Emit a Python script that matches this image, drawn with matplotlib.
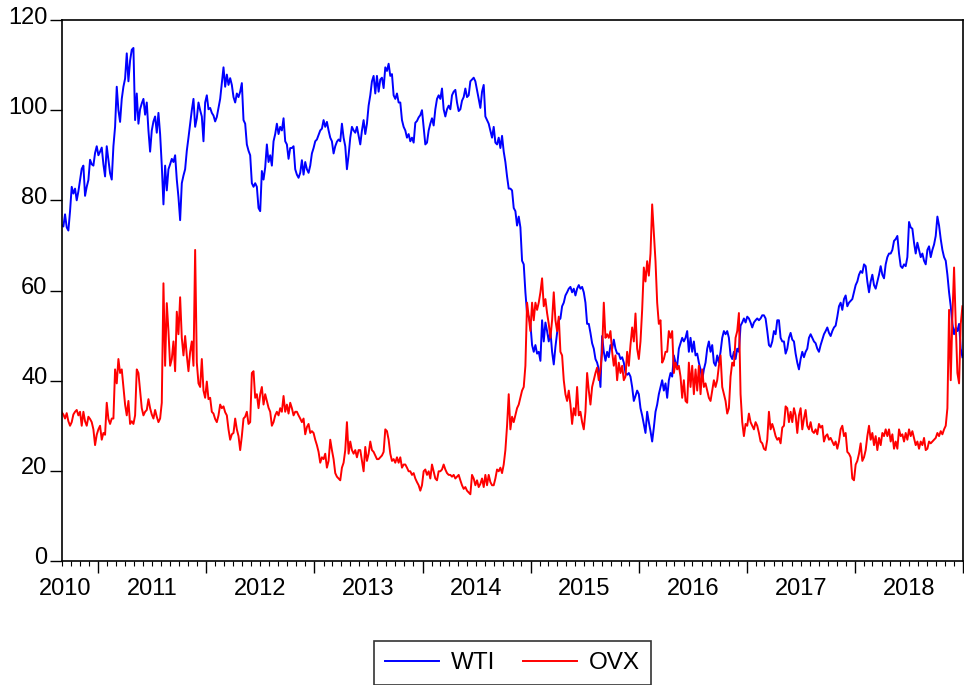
import numpy as np
import pandas as pd
import matplotlib
matplotlib.use("Agg")
import matplotlib.pyplot as plt
import matplotlib.dates as mdates
import matplotlib.ticker as mticker
import matplotlib.transforms as mtransforms

plt.rcParams['font.family'] = ['Liberation Sans', 'DejaVu Sans']

# ---- data (roughly every 5-6 days) ----
wti = [
    # Sep 2010 - Jun 2011
    74.5, 74.2, 76.9, 74.0, 73.3, 77.6, 83.0, 81.5, 82.6, 80.0,
    82.0, 84.5, 87.0, 87.7, 81.0, 83.0, 84.5, 89.0, 88.0, 87.7,
    90.5, 92.0, 90.0, 90.8, 91.7, 88.0, 85.3, 92.0, 89.0, 86.0,
    84.6, 92.0, 96.3, 105.2, 100.0, 97.4, 102.5, 105.2, 107.0, 112.6,
    106.4, 111.0, 113.4, 113.8, 97.8, 103.7, 97.0, 100.2, 101.5, 102.5,
    99.0, 101.7, 95.5, 90.8, 95.5, 97.5, 98.6, 95.0, 99.4, 94.7,
    87.7, 79.1, 87.7, 82.2, 86.9, 88.0, 89.2, 88.5, 90.0, 84.6,
    80.7, 75.6, 83.8, 85.5, 86.9, 91.0, 93.9, 97.0, 100.0, 102.5,
    96.3, 98.2, 101.7, 100.0, 98.6, 93.1, 101.7, 103.3, 100.2,
    # 2012
    100.5, 99.4, 98.8, 97.5, 98.5, 100.5, 102.5, 106.0, 109.5, 105.2,
    107.9, 105.6, 107.1, 105.6, 102.9, 101.7, 103.7, 102.9, 104.1, 106.0,
    97.8, 97.0, 92.4, 91.0, 90.0, 83.8, 83.0, 83.8, 83.0, 78.3,
    77.6, 86.5, 84.6, 87.3, 92.4, 88.5, 90.0, 87.7, 93.1, 94.7,
    97.0, 94.7, 96.3, 95.5, 98.2, 93.1, 92.4, 89.2, 91.6, 91.6,
    92.0, 86.9, 85.7, 85.0, 86.1, 88.9, 85.7, 88.5, 86.9, 86.1,
    87.7, 90.4, 91.6, 93.1, 93.5, 94.5, 95.5, 95.9, 97.8, 96.3,
    97.4, 95.5, 93.9, 93.1, 90.4, 92.0, 93.0, 93.5, 93.1, 97.0,
    93.9, 92.0, 86.9, 90.0, 93.9, 96.3, 95.5, 95.0, 96.3, 94.3,
    # 2013 - 2014
    92.4, 95.5, 97.8, 94.7, 97.0, 101.0, 103.3, 106.4, 107.6, 103.7,
    107.6, 104.1, 106.8, 107.2, 104.9, 109.5, 108.7, 110.3, 107.6, 108.0,
    103.3, 102.5, 103.7, 101.7, 101.7, 97.8, 96.3, 95.5, 93.9, 94.7,
    93.1, 93.9, 92.8, 97.2, 97.6, 98.4, 98.9, 100.0, 96.3, 92.4,
    92.8, 95.5, 97.0, 98.2, 96.6, 100.2, 102.5, 103.3, 102.5, 104.8,
    100.2, 98.6, 100.2, 101.0, 100.2, 103.3, 104.1, 104.5, 101.7, 99.8,
    100.2, 102.1, 102.9, 104.8, 102.9, 103.3, 106.4, 106.8, 107.2, 106.4,
    104.5, 102.5, 100.5, 104.1, 105.6, 98.6, 97.8, 97.0, 95.5, 93.9,
    96.3, 92.8, 92.4, 93.9, 91.6, 94.3, 90.8, 88.5, 85.3, 82.6,
    # late 2014 - 2016
    82.6, 82.2, 78.3, 77.6, 74.4, 76.4, 74.0, 66.6, 65.8, 59.6,
    54.9, 54.2, 52.6, 47.9, 46.4, 47.9, 46.0, 46.4, 44.4, 53.4,
    48.7, 52.9, 51.0, 48.7, 51.0, 46.4, 43.6, 47.5, 50.6, 53.4,
    53.8, 56.5, 57.3, 58.9, 59.6, 60.4, 60.8, 59.6, 60.4, 58.9,
    60.4, 61.2, 60.4, 60.8, 59.6, 57.3, 52.6, 52.6, 50.6, 48.3,
    47.1, 44.8, 44.0, 42.5, 38.6, 49.9, 46.4, 44.4, 46.4, 45.2,
    47.9, 47.1, 49.1, 47.1, 46.0, 46.0, 44.8, 45.2, 44.0, 41.7,
    41.3, 41.7, 40.9, 38.6, 35.5, 36.6, 37.8, 37.0, 33.9, 32.3,
    30.4, 28.4, 33.1, 30.8, 28.8, 26.5, 29.6, 33.1, 34.7, 37.0,
    # 2016 - 2017
    38.6, 40.1, 37.8, 39.4, 36.2, 40.1, 41.7, 40.9, 45.6, 44.0,
    43.3, 47.1, 48.3, 49.5, 48.7, 49.5, 51.0, 46.4, 49.5, 46.4,
    48.7, 45.6, 46.0, 44.0, 42.5, 40.1, 42.5, 44.0, 47.1, 48.7,
    46.4, 47.9, 44.0, 43.3, 45.6, 44.0, 46.4, 49.5, 51.0, 50.3,
    51.0, 49.5, 45.6, 44.8, 46.4, 44.8, 47.1, 46.4, 52.2, 52.9,
    53.8, 52.9, 54.2, 53.8, 52.9, 51.8, 52.9, 53.4, 53.8, 53.4,
    53.8, 54.5, 54.5, 53.8, 51.0, 47.9, 47.5, 48.7, 51.0, 50.3,
    53.4, 53.4, 49.5, 48.7, 48.7, 46.0, 47.1, 49.5, 50.6, 49.1,
    48.7, 46.0, 44.0, 42.5, 44.8, 46.4, 45.2, 46.4, 47.1, 49.5,
    # mid 2017 - 2018
    50.3, 49.5, 48.7, 48.3, 47.1, 46.4, 47.9, 49.1, 50.3, 51.0,
    51.8, 50.6, 49.9, 51.0, 51.8, 52.2, 54.2, 56.5, 57.3, 55.7,
    58.1, 58.9, 56.5, 57.3, 57.7, 58.1, 59.6, 61.2, 62.0, 63.5,
    64.3, 63.9, 65.8, 65.4, 62.0, 59.6, 62.0, 63.5, 61.2, 60.4,
    62.0, 63.5, 65.4, 63.5, 62.7, 65.8, 67.4, 68.2, 68.2, 69.0,
    71.0, 71.4, 72.1, 68.2, 65.4, 65.0, 65.8, 65.4, 67.4, 75.2,
    74.0, 73.7, 70.6, 68.2, 70.6, 69.0, 67.4, 68.2, 66.6, 65.8,
    69.0, 69.8, 67.4, 69.0, 70.2, 72.1, 76.4, 74.4, 71.4, 69.0,
    67.4, 66.6, 63.5, 59.6, 56.5, 52.6, 50.3, 51.8, 51.0, 52.6,
    47.1, 45.2,
]

ovx = [
    33.0, 32.5, 31.6, 32.8, 31.0, 30.0, 30.8, 32.5, 33.1, 33.5,
    32.3, 33.1, 30.0, 33.1, 31.0, 30.0, 32.0, 31.5, 30.8, 29.2,
    25.7, 28.0, 29.2, 30.0, 26.9, 28.4, 28.0, 35.1, 31.5, 30.4,
    31.6, 31.6, 42.5, 39.4, 44.8, 41.7, 42.5, 38.6, 34.7, 32.3,
    35.5, 30.4, 31.0, 30.4, 32.3, 42.5, 41.7, 37.8, 33.9, 32.3,
    33.1, 33.5, 35.9, 33.9, 32.5, 31.6, 33.5, 32.0, 30.8, 31.6,
    35.1, 61.6, 43.3, 57.2, 51.0, 43.3, 44.8, 48.7, 42.1, 55.3,
    50.3, 58.5, 49.5, 45.6, 49.9, 45.6, 42.1, 46.4, 48.7, 43.3,
    69.0, 44.0, 39.4, 38.6, 44.8, 37.8, 36.2, 39.8, 35.9,

    36.2, 33.1, 32.7, 31.5, 30.8, 32.3, 34.7, 33.9, 34.3, 33.0,
    32.3, 29.2, 26.9, 28.1, 28.4, 31.6, 29.2, 27.7, 24.6, 27.7,
    31.6, 32.0, 33.1, 30.4, 30.8, 41.7, 42.1, 36.2, 37.0, 33.9,
    37.0, 38.6, 34.7, 37.0, 35.5, 34.0, 33.1, 30.0, 30.8, 32.3,
    33.1, 32.3, 33.9, 33.1, 36.6, 33.1, 34.7, 32.7, 35.1, 33.9,
    32.3, 33.1, 33.1, 32.3, 31.6, 30.8, 31.6, 28.1, 29.7, 30.4,
    28.4, 28.8, 28.4, 26.9, 25.7, 24.2, 21.8, 23.0, 22.6, 23.8,
    20.7, 22.2, 26.9, 24.6, 22.6, 19.5, 18.7, 18.3, 17.9, 20.7,
    21.8, 24.6, 30.8, 23.8, 26.5, 24.6, 23.8, 24.6, 23.0, 24.6,

    24.6, 22.2, 19.9, 25.3, 22.2, 23.8, 26.5, 24.6, 24.2, 23.4,
    22.6, 22.6, 23.0, 23.4, 24.2, 29.2, 28.8, 26.9, 23.8, 22.2,
    22.6, 21.8, 23.0, 21.8, 23.0, 20.7, 21.4, 21.4, 20.7, 19.9,
    19.9, 19.1, 19.5, 18.3, 17.5, 16.8, 15.6, 16.8, 19.9, 20.3,
    19.1, 19.9, 18.3, 21.4, 19.9, 18.3, 17.9, 19.9, 19.9, 20.3,
    21.4, 20.3, 19.5, 19.1, 19.1, 18.7, 19.1, 18.3, 18.7, 19.1,
    17.9, 16.8, 16.0, 16.4, 15.6, 15.2, 14.8, 19.1, 18.3, 16.8,
    17.9, 16.4, 17.1, 18.3, 16.4, 19.1, 16.8, 19.1, 17.5, 16.8,
    16.8, 18.3, 20.3, 19.9, 20.7, 19.5, 21.4, 24.6, 30.0, 37.0,

    29.2, 32.0, 30.8, 32.3, 33.9, 34.7, 36.2, 37.8, 38.6, 43.3,
    57.3, 54.2, 51.0, 57.3, 53.4, 57.3, 55.7, 57.3, 59.6, 62.7,
    56.5, 58.1, 55.0, 52.6, 49.5, 53.4, 59.6, 53.4, 51.0, 54.2,
    46.4, 45.6, 40.1, 37.0, 35.5, 37.8, 34.7, 30.4, 33.9, 32.3,
    38.6, 32.3, 33.1, 30.8, 29.2, 33.1, 41.7, 37.8, 34.7, 38.6,
    40.1, 41.7, 42.9, 40.1, 42.5, 46.4, 57.3, 49.5, 50.3, 49.5,
    51.0, 46.4, 43.3, 45.6, 40.1, 44.0, 41.7, 43.3, 40.1, 40.9,
    46.4, 43.3, 47.9, 51.8, 48.7, 54.9, 47.1, 44.8, 48.7, 55.7,
    65.1, 62.0, 66.5, 63.3, 68.2, 79.1, 72.9, 66.5, 57.3, 52.6,

    53.4, 44.0, 44.8, 46.4, 46.4, 51.0, 49.5, 51.0, 41.7, 44.0,
    42.5, 43.3, 40.9, 36.2, 40.1, 35.5, 35.1, 44.0, 38.6, 43.3,
    37.0, 42.5, 37.8, 43.3, 37.0, 42.5, 38.6, 39.4, 37.8, 36.2,
    35.5, 37.8, 40.1, 38.6, 40.1, 43.3, 45.6, 38.6, 37.0, 35.5,
    32.7, 33.9, 40.9, 44.0, 43.3, 49.5, 51.0, 55.0, 37.0, 30.8,
    27.7, 30.4, 30.0, 32.7, 30.8, 30.0, 29.2, 30.8, 30.0, 28.4,
    26.5, 26.1, 24.9, 24.6, 26.9, 33.1, 29.2, 30.4, 29.2, 27.7,
    26.9, 27.3, 26.1, 29.6, 30.0, 34.3, 33.9, 30.8, 33.1, 30.8,
    33.9, 32.3, 28.4, 32.3, 33.9, 29.2, 31.6, 33.5, 30.0, 29.2,

    30.8, 28.8, 28.4, 29.2, 28.1, 30.4, 29.6, 30.0, 26.5, 27.7,
    28.1, 26.9, 27.3, 26.5, 25.7, 26.5, 24.9, 26.5, 29.2, 30.0,
    27.7, 28.4, 24.2, 23.8, 23.0, 18.3, 17.9, 21.4, 22.2, 23.8,
    26.1, 22.2, 23.0, 24.6, 27.7, 30.0, 26.9, 28.4, 25.7, 27.7,
    24.6, 27.3, 25.7, 28.4, 27.7, 29.2, 27.7, 29.2, 26.5, 28.1,
    24.9, 26.5, 24.9, 29.2, 27.7, 28.1, 26.5, 28.4, 26.9, 29.2,
    27.7, 28.8, 27.3, 25.7, 26.5, 24.9, 26.5, 25.7, 27.3, 24.6,
    24.9, 26.5, 26.1, 26.5, 26.9, 27.3, 28.4, 27.7, 28.8, 28.1,
    29.2, 30.0, 33.9, 55.7, 40.1, 54.2, 65.1, 52.6, 41.7, 39.4,
    52.6, 56.5,
]

dates = pd.date_range("2010-08-31", "2018-12-30", periods=len(wti))

years = ["2010", "2011", "2012", "2013", "2014", "2015", "2016", "2017", "2018"]
yticks = [0, 20, 40, 60, 80, 100, 120]

fig = plt.figure(figsize=(9.64, 6.85), dpi=100)
ax = fig.add_axes([62/964, 124/685, 901/964, 541/685])

ax.plot(dates, wti, color="#0000ff", lw=1.4, label="WTI")
ax.plot(dates, ovx, color="#ff0000", lw=1.4, label="OVX")

ax.set_xlim(pd.Timestamp("2010-09-01"), pd.Timestamp("2019-01-01"))
ax.set_ylim(0, 120)
ax.set_yticks(yticks)

ax.xaxis.set_major_locator(mdates.YearLocator())
ax.xaxis.set_minor_locator(mdates.MonthLocator())
ax.xaxis.set_major_formatter(mticker.NullFormatter())
ax.tick_params(axis="x", which="major", length=8.5, width=1.0, direction="out")
ax.tick_params(axis="x", which="minor", length=3.5, width=0.8, direction="out")
ax.tick_params(axis="y", length=8.5, width=1.0, pad=2, labelsize=17)

for sp in ax.spines.values():
    sp.set_linewidth(1.2)

# EViews puts the y labels a bit above their ticks
shift = mtransforms.ScaledTranslation(0, 5/100, fig.dpi_scale_trans)
for lbl in ax.get_yticklabels():
    lbl.set_transform(lbl.get_transform() + shift)

# year labels sit between the year ticks
for y in years:
    if y == "2010":
        pos = pd.Timestamp("2010-09-11")
    else:
        pos = pd.Timestamp(f"{y}-07-02")
    ax.annotate(y, xy=(pos, 0), xycoords=("data", "axes fraction"),
                xytext=(0, -20.5), textcoords="offset points",
                ha="center", va="center", fontsize=17)

leg = fig.legend(loc="center", bbox_to_anchor=(512.5/964, 1 - 663/685), ncol=2,
                 fontsize=17.5, frameon=True, fancybox=False, edgecolor="black",
                 handlelength=2.2, handletextpad=0.5, columnspacing=1.15,
                 borderpad=0.45)
leg.get_frame().set_linewidth(1.2)

fig.savefig("out.png", dpi=100)
